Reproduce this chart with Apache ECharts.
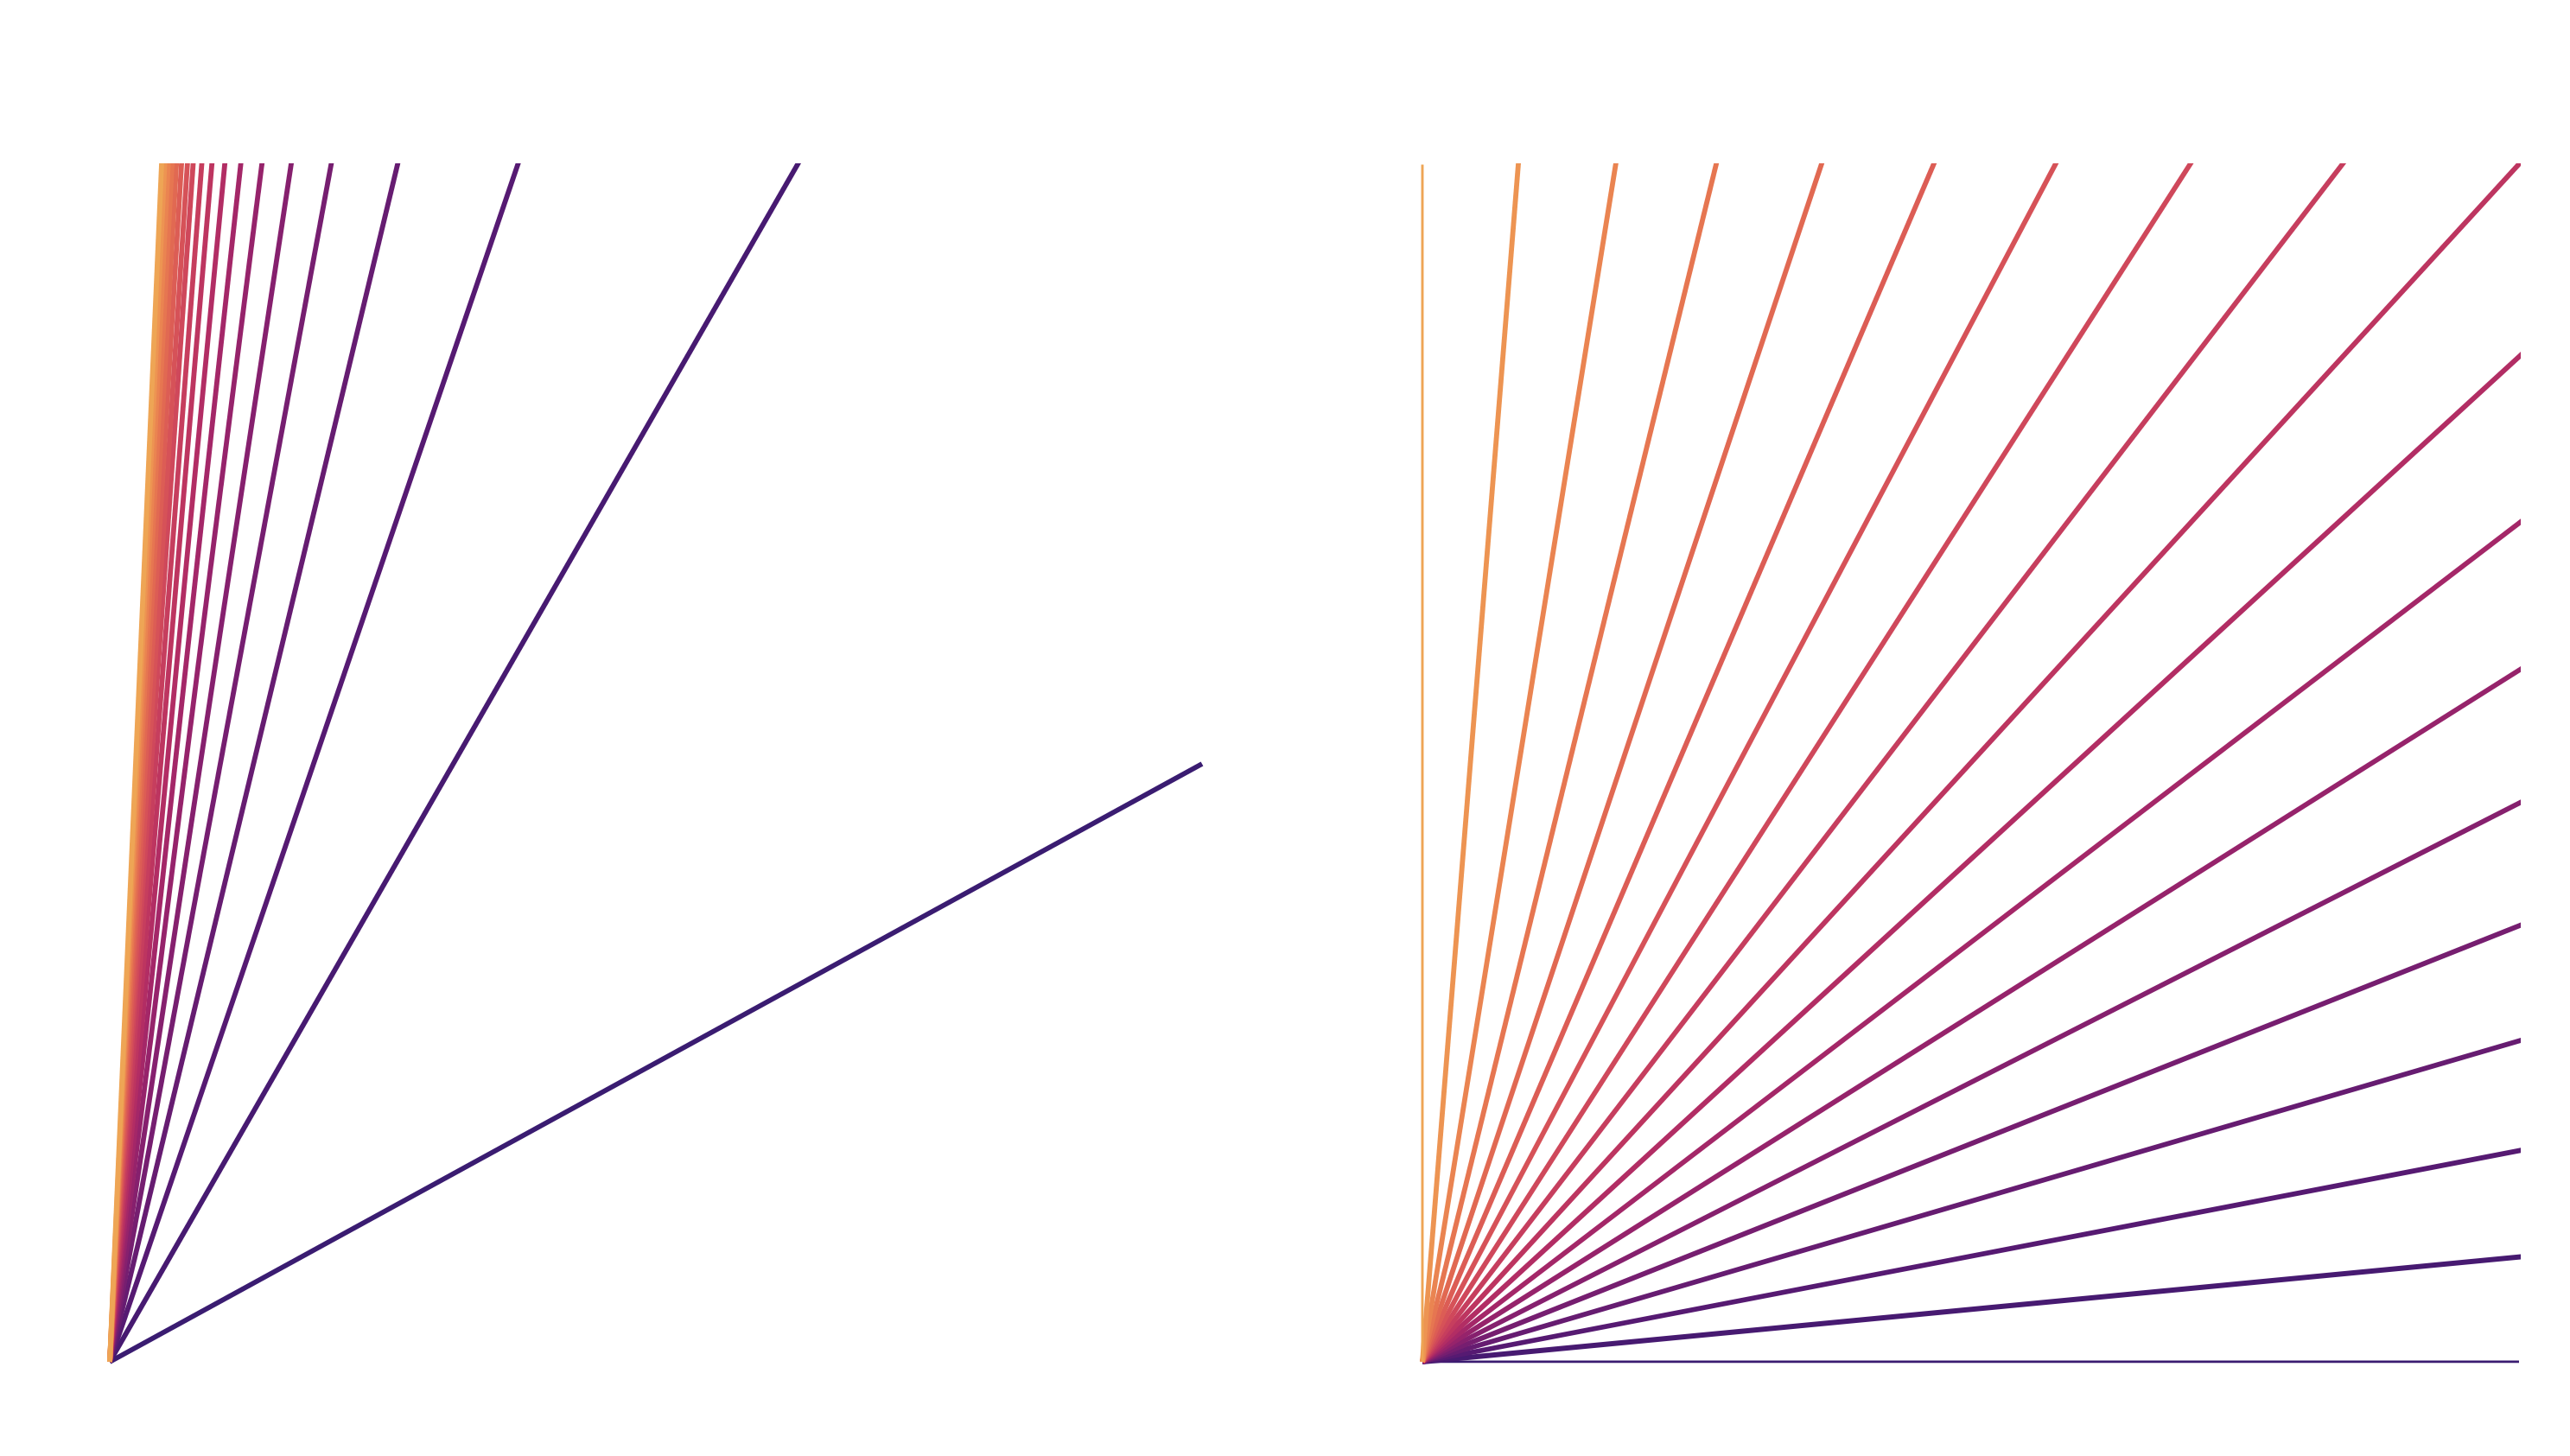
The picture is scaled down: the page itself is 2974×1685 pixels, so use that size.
<!DOCTYPE html>
<html>
<head>
<meta charset="utf-8">
<script src="https://cdn.jsdelivr.net/npm/echarts@6/dist/echarts.min.js"></script>
<style>
html,body{margin:0;padding:0;background:#ffffff;}
#chart{width:2974px;height:1685px;}
</style>
</head>
<body>
<div id="chart"></div>
<script>
// Left panel: slopes of lines through the origin (x and y both span 0..1)
var leftSlopes = [0.5, 1.59, 2.68, 3.8, 4.94, 6.03, 7.19, 8.35, 9.51, 10.71, 11.89, 13.12, 14.09, 15.25, 16.41, 17.57, 18.72, 19.91, 21.1];
// Right panel: angles (degrees) of lines through the origin
var rightAngles = [0, 5, 10, 15, 20, 25, 30, 35, 40, 45, 50, 55, 60, 65, 70, 75, 80, 85, 90];
// Palette, dark purple -> orange, one per line index
var palette = ['#3a1c71', '#471a71', '#561a72', '#661c71', '#761e70', '#86206e', '#96236b', '#a42768', '#b22d64', '#bd3560',
               '#c63e5e', '#cf485b', '#d65258', '#dc5d55', '#e16952', '#e67651', '#ea8451', '#ed9452', '#eea555'];

var chart = echarts.init(document.getElementById('chart'), null, {renderer: 'canvas'});

function axis(gi) {
  return {type: 'value', gridIndex: gi, min: 0, max: 1, show: false,
          axisLine: {show: false}, axisTick: {show: false}, axisLabel: {show: false}, splitLine: {show: false}};
}

var series = [];
leftSlopes.forEach(function (m, i) {
  series.push({
    type: 'line', xAxisIndex: 0, yAxisIndex: 0,
    data: [[0, 0], [1, m]],
    symbol: 'none', showSymbol: false, silent: true, clip: true,
    lineStyle: {width: 5.8, color: palette[i], cap: 'butt'},
    z: 2 + i
  });
});
rightAngles.forEach(function (a, i) {
  var r = a * Math.PI / 180;
  var edge = (i === 0 || i === rightAngles.length - 1);
  series.push({
    type: 'line', xAxisIndex: 1, yAxisIndex: 1,
    data: [[0, 0], [2 * Math.cos(r), 2 * Math.sin(r)]],
    symbol: 'none', showSymbol: false, silent: true, clip: true,
    lineStyle: {width: edge ? 2.9 : 5.8, color: palette[i], cap: 'butt'},
    z: 2 + i
  });
});

chart.setOption({
  backgroundColor: '#ffffff',
  animation: false,
  grid: [
    {left: 127, top: 192, width: 1264, height: 1384},
    {left: 1646, top: 192, width: 1267, height: 1384}
  ],
  xAxis: [axis(0), axis(1)],
  yAxis: [axis(0), axis(1)],
  series: series
});
</script>
</body>
</html>
